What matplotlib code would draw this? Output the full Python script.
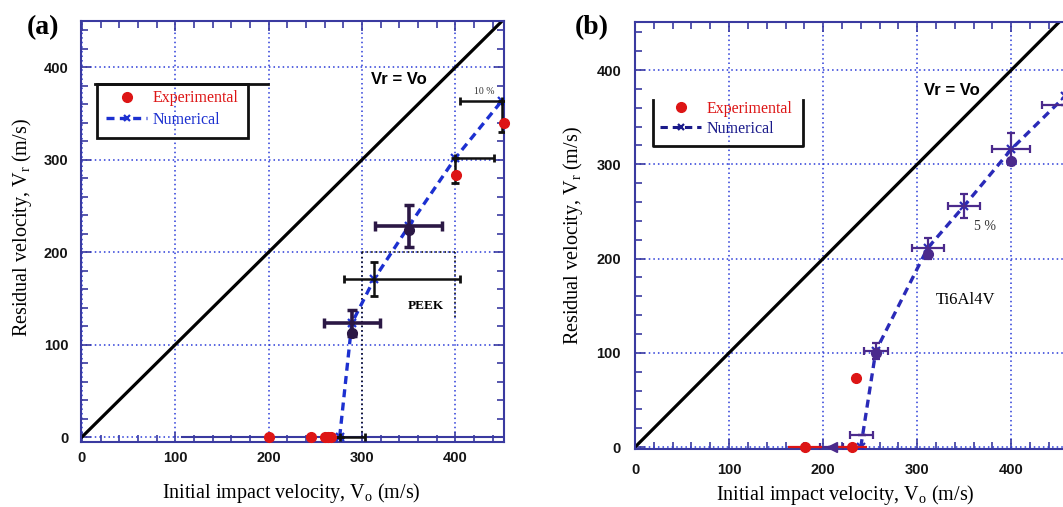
import matplotlib
matplotlib.use("Agg")
import matplotlib.pyplot as plt
from matplotlib.patches import Rectangle
from matplotlib.lines import Line2D
from matplotlib.ticker import MultipleLocator

plt.rcParams['font.family'] = ['Liberation Serif', 'DejaVu Serif']
plt.rcParams['mathtext.fontset'] = 'custom'
plt.rcParams['mathtext.rm'] = 'Liberation Serif'
plt.rcParams['mathtext.it'] = 'Liberation Serif:italic'
plt.rcParams['mathtext.default'] = 'rm'

# ---------------- data ----------------
ticks = [0, 100, 200, 300, 400]
tick_labels = ['0', '100', '200', '300', '400']
diag_v = [-5, 460]

# (a) PEEK
a_exp_v0 = [200, 245, 260, 264, 267, 401, 452]
a_exp_vr = [0, 0, 0, 0, 0, 283, 340]
a_num_v0 = [276, 289, 313, 350, 400, 450]
a_num_vr = [0, 123, 171, 228, 302, 364]
a_mean_v0 = [289, 350]
a_mean_vr = [123, 228]
a_mean_xerr = [30, 36]
a_mean_yerr = [14, 23]
a_blob_v0 = [289, 350]
a_blob_vr = [112, 224]
a_rng_v0 = [276, 313, 400, 450]
a_rng_vr = [0, 171, 302, 364]
a_rng_xlo = [0, 32, 0, 45]
a_rng_xhi = [27, 92, 41, 0]
a_rng_ylo = [0, 18, 27, 34]
a_rng_yhi = [0, 18, 0, 0]

# (b) Ti6Al4V
b_exp_v0 = [181, 231, 235]
b_exp_vr = [0, 0, 73]
b_exp_xerr = [18, 16, 0]
b_num_v0 = [240, 256, 311, 350, 400, 457]
b_num_vr = [0, 102, 211, 256, 316, 372]
b_mean_v0 = [209, 241, 256, 311, 350, 400, 457]
b_mean_vr = [0, 13, 102, 211, 256, 316, 363]
b_mean_xerr = [12, 12, 13, 17, 17, 20, 24]
b_mean_yerr = [0, 0, 8, 11, 13, 17, 0]
b_blob_v0 = [256, 311, 400]
b_blob_vr = [100, 205, 304]
b_tri_v0 = [209]
b_tri_vr = [0]

# ---------------- style ----------------
SPINE = '#3a3aa0'
GRID = '#2a3ad8'
RED = '#dd1515'
BLUE_A = '#1c30d0'
BLUE_B = '#2a2ab8'
PURP_A = '#2b1845'
PURP_B = '#4b2a8c'
TICKFONT = dict(family=['Liberation Sans', 'DejaVu Sans'], weight='bold', size=10.5)

fig = plt.figure(figsize=(10.63, 5.07), dpi=100)
axa = fig.add_axes([81/1063, 65/507, 423/1063, 421/507])
axb = fig.add_axes([635/1063, 58/507, 428/1063, 427/507])


def style_axes(ax, xlim, ylim, right=True, xpad=6.5, ypad=9):
    ax.set_xlim(*xlim)
    ax.set_ylim(*ylim)
    ax.set_xticks(ticks)
    ax.set_yticks(ticks)
    ax.set_xticklabels(tick_labels, fontdict=TICKFONT, color='#151515')
    ax.set_yticklabels(tick_labels, fontdict=TICKFONT, color='#151515')
    ax.xaxis.set_minor_locator(MultipleLocator(20))
    ax.yaxis.set_minor_locator(MultipleLocator(20))
    ax.tick_params(which='both', direction='in', top=True, right=right,
                   color=SPINE, width=1.2)
    ax.tick_params(which='major', length=7)
    ax.tick_params(which='minor', length=5)
    ax.tick_params(axis='x', pad=xpad)
    ax.tick_params(axis='y', pad=ypad)
    for s in ax.spines.values():
        s.set_color(SPINE)
        s.set_linewidth(1.5)
    if not right:
        ax.spines['right'].set_visible(False)
    ax.grid(True, which='major', color=GRID, linestyle=(0, (1, 2)), lw=1.1)
    ax.set_axisbelow(True)


# ---------------- panel (a) ----------------
ax = axa
style_axes(ax, (-1, 452), (-5.4, 450))
ax.axhline(0, xmin=0.238, xmax=1, color=SPINE, lw=1.5, zorder=1)
# black dotted segments of the grid
ax.vlines(300, 0, 200, colors='k', linestyles=(0, (1, 2)), lw=1.1, zorder=1)
ax.hlines(200, 300, 400, colors='k', linestyles=(0, (1, 2)), lw=1.1, zorder=1)
ax.vlines(400, 130, 200, colors='k', linestyles=(0, (1, 2)), lw=1.1, zorder=1)

ax.plot(diag_v, diag_v, color='k', lw=2.3, zorder=2, solid_capstyle='butt')
ax.plot(a_num_v0, a_num_vr, color=BLUE_A, lw=2.4, dashes=(2.4, 1.6),
        marker='x', ms=6, mew=1.6, zorder=3)
ax.errorbar(a_rng_v0, a_rng_vr, xerr=[a_rng_xlo, a_rng_xhi],
            yerr=[a_rng_ylo, a_rng_yhi], fmt='none', ecolor='#111111',
            elinewidth=1.8, capsize=3, capthick=2, zorder=4)
ax.errorbar(a_mean_v0, a_mean_vr, xerr=a_mean_xerr, yerr=a_mean_yerr,
            fmt='none', ecolor=PURP_A, elinewidth=2.6, capsize=3.5,
            capthick=2.5, zorder=4)
ax.plot(a_blob_v0, a_blob_vr, 'o', color=PURP_A, ms=7, zorder=5)
ax.plot(a_exp_v0, a_exp_vr, 'o', color=RED, ms=7, zorder=6, clip_on=False,
        linestyle='none')

ax.text(339, 387, 'Vr = Vo', fontsize=12, fontweight='bold', ha='center',
        va='center', family=['Liberation Sans', 'DejaVu Sans'])
ax.text(368, 142, 'PEEK', fontsize=9.5, fontweight='bold', ha='center',
        va='center')
ax.text(431, 374, '10 %', fontsize=7, ha='center', va='center', color='#333333')

# legend (a)
ha1 = Line2D([], [], color=RED, marker='o', ms=7, linestyle='none')
ha2 = Line2D([], [], color=BLUE_A, lw=2.4, dashes=(2.4, 1.6), marker='x',
             ms=5, mew=1.6)
leg = ax.legend([ha1, ha2], ['Experimental', 'Numerical'], loc='upper left',
                bbox_to_anchor=(0.059, 0.835), borderaxespad=0, borderpad=0,
                frameon=False, fontsize=11.5, handlelength=2.6,
                handletextpad=0.3, labelspacing=0.35)
for t, c in zip(leg.get_texts(), [RED, BLUE_A]):
    t.set_color(c)
ax.add_patch(Rectangle((0.038, 0.722), 0.357, 0.128, transform=ax.transAxes,
                       fill=False, lw=2, ec='#111111', zorder=7))
ax.plot([0.033, 0.441], [0.850, 0.850], transform=ax.transAxes, color='#111111',
        lw=2, zorder=7, clip_on=False)

# ---------------- panel (b) ----------------
ax = axb
style_axes(ax, (0, 455), (-2, 451), right=False, xpad=10, ypad=10)

ax.plot(diag_v, diag_v, color='k', lw=2.3, zorder=2, solid_capstyle='butt')
ax.plot(b_num_v0, b_num_vr, color=BLUE_B, lw=2.4, dashes=(2.4, 1.6),
        marker='x', ms=6, mew=1.6, zorder=3)
ax.errorbar(b_mean_v0, b_mean_vr, xerr=b_mean_xerr, yerr=b_mean_yerr,
            fmt='none', ecolor=PURP_B, elinewidth=1.6, capsize=3,
            capthick=1.6, zorder=4)
ax.errorbar(b_exp_v0, b_exp_vr, xerr=b_exp_xerr, fmt='none', ecolor=RED,
            elinewidth=1.6, zorder=4)
ax.plot(b_blob_v0, b_blob_vr, 'o', color=PURP_B, ms=7, zorder=5)
ax.plot(b_tri_v0, b_tri_vr, '<', color=PURP_B, ms=7, zorder=5, clip_on=False)
ax.plot(b_exp_v0, b_exp_vr, 'o', color=RED, ms=7, zorder=6, clip_on=False,
        linestyle='none')

ax.text(337, 378, 'Vr = Vo', fontsize=12, fontweight='bold', ha='center',
        va='center', family=['Liberation Sans', 'DejaVu Sans'])
ax.text(372, 234, '5 %', fontsize=10, ha='center', va='center', color='#333333')
ax.text(351, 156, 'Ti6Al4V', fontsize=12, ha='center', va='center')

hb1 = Line2D([], [], color=RED, marker='o', ms=7, linestyle='none')
hb2 = Line2D([], [], color='#1a1a8a', lw=2.2, dashes=(2.4, 1.6), marker='x',
             ms=5, mew=1.6)
leg = ax.legend([hb1, hb2], ['Experimental', 'Numerical'], loc='upper left',
                bbox_to_anchor=(0.058, 0.815), borderaxespad=0, borderpad=0,
                frameon=False, fontsize=11.5, handlelength=2.6,
                handletextpad=0.3, labelspacing=0.25)
for t, c in zip(leg.get_texts(), [RED, '#1a1a8a']):
    t.set_color(c)
ax.plot([0.042, 0.042, 0.393, 0.393], [0.817, 0.71, 0.71, 0.817],
        transform=ax.transAxes, color='#111111', lw=2, zorder=7)

# ---------------- labels ----------------
fig.text(291/1063, 1 - 498/507, r'Initial impact velocity, V$_o$ (m/s)',
         fontsize=14.5, ha='center', va='baseline')
fig.text(845/1063, 1 - 500/507, r'Initial impact velocity, V$_o$ (m/s)',
         fontsize=14.5, ha='center', va='baseline')
fig.text(22/1063, 1 - 228/507, r'Residual velocity, V$_r$ (m/s)',
         fontsize=14.5, ha='center', va='center', rotation=90)
fig.text(573/1063, 1 - 236/507, r'Residual velocity, V$_r$ (m/s)',
         fontsize=14.5, ha='center', va='center', rotation=90)
fig.text(43/1063, 1 - 28/507, '(a)', fontsize=20, fontweight='bold',
         ha='center', va='center')
fig.text(592/1063, 1 - 28/507, '(b)', fontsize=20, fontweight='bold',
         ha='center', va='center')

fig.savefig('out.png', dpi=100)
